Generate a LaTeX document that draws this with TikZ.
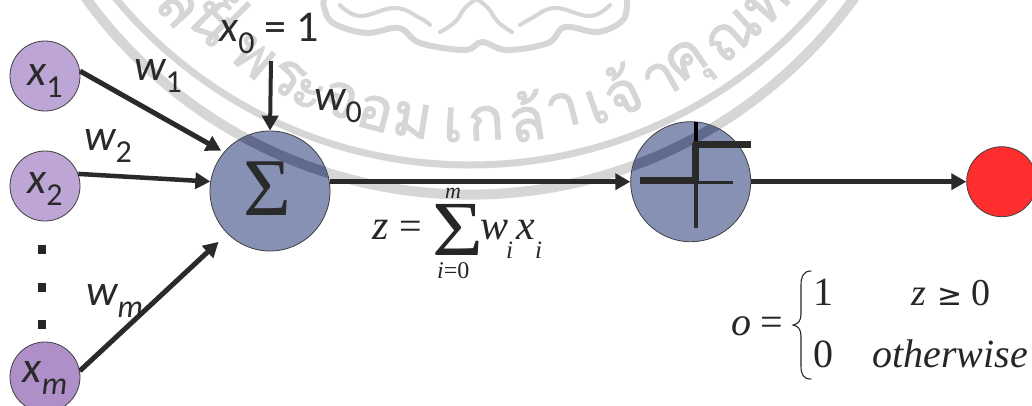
\documentclass[tikz,border=0pt]{standalone}
\usepackage{fontspec}
\usetikzlibrary{arrows.meta}
\setmainfont{Liberation Serif}
\newfontfamily\calfont{Carlito}
\newfontfamily\thaifont[Script=Thai,AutoFakeBold=1.5]{Loma}
\definecolor{wmgray}{HTML}{D6D6D6}
\definecolor{wmdark}{HTML}{5F6A8C}
\definecolor{inka}{HTML}{2A2A2A}
\definecolor{inputpurple}{HTML}{BDA5D6}
\definecolor{inputdeep}{HTML}{AF8FC8}
\definecolor{unitblue}{HTML}{8791B3}
\definecolor{outred}{HTML}{FF2E2E}
\newcommand{\calmain}{\calfont\fontsize{44}{44}\selectfont}
\newcommand{\calsub}{\calfont\fontsize{32}{32}\selectfont}
\newcommand{\callab}[2]{{\calmain\itshape #1}\raisebox{-12pt}{\calsub #2}}
\newcommand{\incirc}[3]{\raisebox{-#3pt}[0pt][0pt]{\callab{#1}{#2}}}
\newcommand{\timesf}[1]{\fontsize{#1}{#1}\selectfont}
\tikzset{
  band/.style={draw=wmgray,line cap=butt},
  wmletter/.style={text=wmgray,inner sep=0,font=\thaifont\bfseries\fontsize{60}{60}\selectfont},
  neuron/.style={circle,draw=black!75,line width=.8pt,minimum size=70pt,inner sep=0,text=inka},
  unit/.style={neuron,minimum size=120pt,fill=unitblue},
  link/.style={draw=inka,line width=4.5pt,-{Triangle[width=16pt,length=15pt]}},
  lab/.style={inner sep=0,anchor=base west,text=inka},
  tx/.style={inner sep=0,anchor=base west,text=black!85},
  dotmark/.style={fill=black!85,minimum size=8.5pt,inner sep=0,rectangle},
  stepbar/.style={fill=inka,draw=none}
}
\begin{document}
\begin{tikzpicture}[x=1pt,y=-1pt]
\useasboundingbox (0,0) rectangle (1032,405);
\clip (0,0) rectangle (1032,405);
\fill[white] (0,0) rectangle (1032,405);
% watermark
\draw[band,line width=10pt] (470,-279) circle (473.6);
\draw[band,line width=7pt] (470,-295) circle (460);
\foreach \n/\x/\y/\r/\t in {
 a/177/7/-48/ล,b/210/23/-45/น,c/230/8/-45/ย,
 d/253/57/-40/พ,e/287/78/-32/ร,f/307/95/-28/ะ,g/340/100/-20/จ,h/375/113/-15/อ,
 i/412/120/-9/ม,j/453/125/-3/เ,k/486/123/3/ก,l/526/116/9/ล้,m/563/110/15/า,
 n/597/107/20/เ,o/621/90/25/จ้,p/661/80/30/า,q/690/66/35/คุ,r/733/35/42/ณ,s/767/3/48/ท}
 {\node[wmletter,rotate=\r] (wm\n) at (\x,\y) {\t};}
\draw[wmgray,line width=6pt,line cap=round,line join=round]
 plot[smooth,tension=.6] coordinates {(324,0)(324,7)(333,23)(366,33)(399,28)(420,43)(465,50)(482,42)(507,50)(548,43)(565,27)(598,32)(623,20)(627,0)};
\draw[wmgray,line width=4pt,line cap=round]
 plot[smooth,tension=.7] coordinates {(340,5)(360,16)(395,8)(420,18)(430,25)}
 plot[smooth,tension=.7] coordinates {(610,5)(590,16)(555,8)(532,18)(520,25)}
 plot[smooth,tension=.7] coordinates {(440,32)(455,22)(465,8)(475,0)}
 plot[smooth,tension=.7] coordinates {(512,32)(498,22)(488,8)(478,0)};
% units
\node[neuron,fill=inputpurple] (x1) at (45,76) {\incirc{x}{1}{9}};
\node[neuron,fill=inputpurple] (x2) at (45,186) {\incirc{x}{2}{7}};
\node[neuron,fill=inputdeep] (xm) at (45,377) {\incirc{x}{\itshape m}{5}};
\node[unit] (sum) at (270,191) {\raisebox{-24pt}[0pt][0pt]{\hspace*{-5pt}\timesf{82}\textcolor{inka}{Σ}}};
\node[unit] (stepunit) at (690.7,181.7) {};
\node[neuron,fill=outred] (out) at (1001.7,181.7) {};
% watermark showing through the units
\begin{scope}
 \clip (sum.center) circle (59.5);
 \draw[wmdark,line width=10pt] (470,-279) circle (473.6);
\end{scope}
\begin{scope}
 \clip (stepunit.center) circle (59.5);
 \draw[wmdark,line width=10pt] (470,-279) circle (473.6);
\end{scope}
% step glyph
\fill[stepbar] (640,177) rectangle (693,184);
\fill[stepbar] (693,180.5) rectangle (733,184);
\fill[stepbar] (692,143) rectangle (699,180.5);
\fill[stepbar] (693.5,180) rectangle (698,228);
\fill[black] (694,122) rectangle (698,143);
\fill[stepbar] (693,141) rectangle (751,148);
% dots
\node[dotmark] (d1) at (42,249.5) {};
\node[dotmark] (d2) at (42,287.5) {};
\node[dotmark] (d3) at (42,324.5) {};
% labels
\node[lab] (w1) at (134,80) {\callab{w}{1}};
\node[lab] (w2) at (84,150) {\callab{w}{2}};
\node[lab] (wm) at (86,305) {\callab{w}{\itshape m}};
\node[lab] (w0) at (314,110) {\callab{w}{0}};
\node[lab] (x0) at (219,41) {\callab{x}{0}{\calmain\ = 1}};
% connectors
\coordinate (x0end) at (271,61);
\draw[link,line width=4pt] (x0end) -- (sum.north);
\draw[link,line width=5pt,shorten >=3pt] (x1.8) -- (sum.140);
\draw[link] (x2.20) -- (sum.171);
\draw[link,line width=5pt,shorten >=12pt] (xm.10) -- (sum.225);
\draw[link] (sum.east |- stepunit.center) -- (stepunit.west);
\draw[link] (stepunit.east) -- (out.west);
% sum formula
\node[tx,font=\timesf{42}] (fz) at (372,239) {\textit{z}};
\node[tx,font=\timesf{40}] (feq) at (399,239) {=};
\node[tx,font=\timesf{78},xscale=1.12] (fsig) at (432,255) {Σ};
\node[tx,font=\timesf{22}] (fm) at (445,198) {\textit{m}};
\node[tx,font=\timesf{24}] (fi) at (437,278) {\textit{i}=0};
\node[tx,font=\timesf{42}] (fw) at (480,239) {\textit{w}};
\node[tx,font=\timesf{25}] (fwi) at (506,258) {\textit{i}};
\node[tx,font=\timesf{42}] (fx) at (516,239) {\textit{x}};
\node[tx,font=\timesf{25}] (fxi) at (535,258) {\textit{i}};
% output formula
\node[tx,font=\timesf{40}] (oo) at (731,335) {\textit{o}};
\node[tx,font=\timesf{40}] (oeq) at (760,335) {=};
\draw[black!85,line width=1.1pt,line cap=round] (811,271) .. controls (803,271) and (801,277) .. (801,285) -- (801,314) .. controls (801,321) and (798,324) .. (793,325) .. controls (798,326) and (801,329) .. (801,336) -- (801,366) .. controls (801,374) and (803,379) .. (811,379);
\node[tx,font=\timesf{40}] (o1) at (813,305) {1};
\node[tx,font=\timesf{40}] (o0) at (813,367) {0};
\node[tx,font=\timesf{38}] (oz) at (911,305) {\textit{z}};
\node[tx,font=\fontspec{DejaVu Sans}\fontsize{30}{30}\selectfont] (oge) at (937,305) {≥};
\node[tx,font=\timesf{38}] (oz0) at (971,305) {0};
\node[tx,font=\timesf{40}] (oth) at (872,367) {\textit{otherwise}};
\end{tikzpicture}
\end{document}
